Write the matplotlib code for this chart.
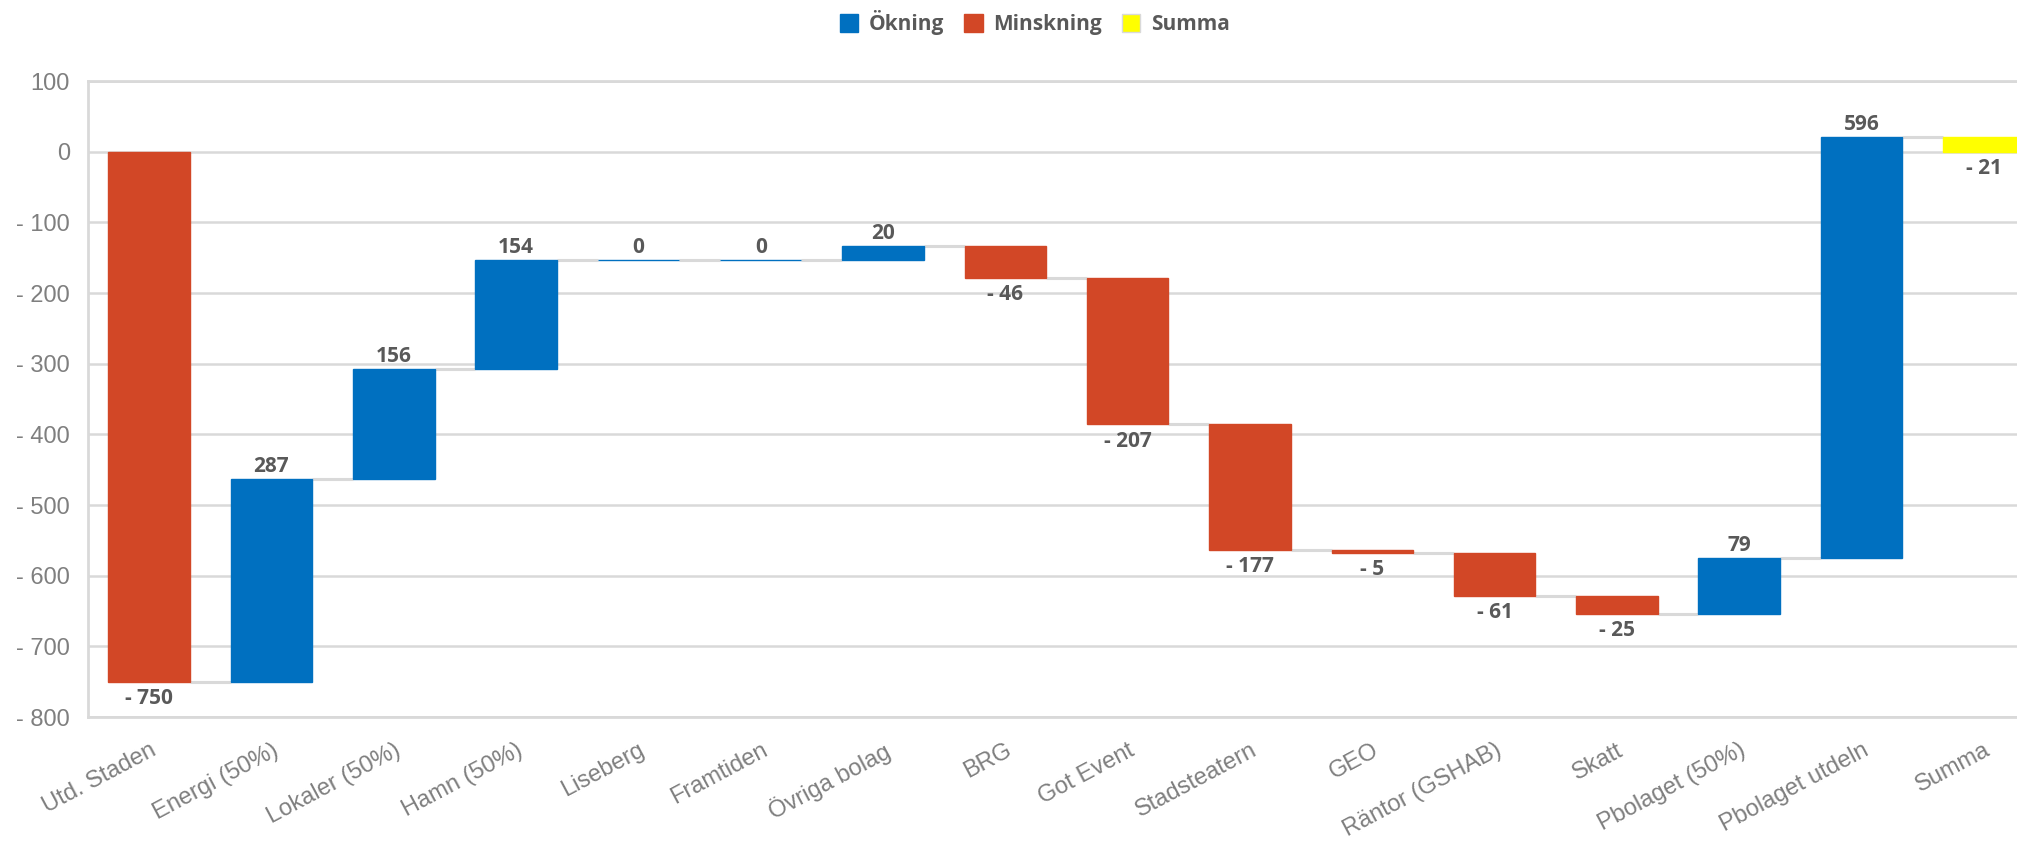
import matplotlib.pyplot as plt
import matplotlib.patches as mpatches
from matplotlib.ticker import FuncFormatter, MultipleLocator
import numpy as np

# categories and the change each one brings
categories = ['Utd. Staden', 'Energi (50%)', 'Lokaler (50%)', 'Hamn (50%)', 'Liseberg',
              'Framtiden', 'Övriga bolag', 'BRG', 'Got Event', 'Stadsteatern', 'GEO',
              'Räntor (GSHAB)', 'Skatt', 'Pbolaget (50%)', 'Pbolaget utdeln', 'Summa']
changes = [-750, 287, 156, 154, 0, 0, 20, -46, -207, -177, -5, -61, -25, 79, 596]
summa = -21

BLUE = '#0070C0'
RED = '#D24726'
YELLOW = '#FFFF00'
LABEL_GREY = '#595959'
TICK_GREY = '#7F7F7F'
LINE_GREY = '#D9D9D9'
BOLD_FONT = 'Open Sans'

changes = np.array(changes)
ends = np.cumsum(changes)
starts = ends - changes

bottoms = list(np.minimum(starts, ends)) + [0]
heights = list(np.abs(changes)) + [abs(summa)]
colors = [BLUE if c >= 0 else RED for c in changes] + [YELLOW]
x = np.arange(len(categories))
width = 0.666

fig = plt.figure(figsize=(20.17, 8.41), dpi=100)
ax = fig.add_axes([88 / 2017, 1 - 717 / 841, 1957 / 2017, (717 - 81) / 841])

ax.set_axisbelow(True)
ax.yaxis.grid(True, color=LINE_GREY, linewidth=1.8)
ax.bar(x, heights, width=width, bottom=bottoms, color=colors, edgecolor=colors,
       linewidth=1, zorder=3)

# connectors between neighbouring bars
levels = list(ends)
for i in range(len(categories) - 1):
    ax.plot([x[i] + width / 2, x[i + 1] - width / 2], [levels[i], levels[i]],
            color=LINE_GREY, linewidth=2.2, zorder=2, solid_capstyle='butt')

# value labels
label_values = list(changes) + [summa]
for i, v in enumerate(label_values):
    txt = f'- {abs(v)}' if v < 0 else f'{v}'
    if v < 0:
        y = bottoms[i]
        off = -16
    else:
        y = bottoms[i] + heights[i]
        off = 5
    ax.annotate(txt, xy=(x[i], y), xytext=(0, off), textcoords='offset points',
                ha='center', va='baseline', fontsize=15, fontweight='bold',
                family=BOLD_FONT, color=LABEL_GREY, zorder=4)

ax.set_xlim(-0.5, len(categories) - 0.5)
ax.set_ylim(-800, 100)
ax.yaxis.set_major_locator(MultipleLocator(100))
ax.yaxis.set_major_formatter(FuncFormatter(
    lambda v, p: f'- {abs(int(v))}' if v < 0 else f'{int(v)}'))
ax.tick_params(axis='y', length=0, pad=13, labelsize=17, labelcolor=TICK_GREY)
ax.tick_params(axis='x', length=0, pad=16, labelsize=17, labelcolor=TICK_GREY)
for lab in ax.get_yticklabels():
    lab.set_family('Liberation Sans')

ax.set_xticks(x)
ax.set_xticklabels(categories, rotation=28, ha='right', va='top',
                   rotation_mode='anchor', family='Liberation Sans')

for side in ['left', 'bottom', 'top']:
    ax.spines[side].set_color(LINE_GREY)
    ax.spines[side].set_linewidth(2)
ax.spines['right'].set_visible(False)

handles = [mpatches.Patch(facecolor=BLUE, edgecolor=BLUE, label='Ökning'),
           mpatches.Patch(facecolor=RED, edgecolor=RED, label='Minskning'),
           mpatches.Patch(facecolor=YELLOW, edgecolor='#D9D9D9', label='Summa')]
fig.legend(handles=handles, loc='center', bbox_to_anchor=(0.513, 0.973), ncol=3,
           frameon=False, handlelength=0.9, handleheight=0.9, handletextpad=0.5,
           columnspacing=0.95, prop={'family': BOLD_FONT, 'weight': 'bold', 'size': 15},
           labelcolor=LABEL_GREY)

fig.savefig('out.png', dpi=100)
